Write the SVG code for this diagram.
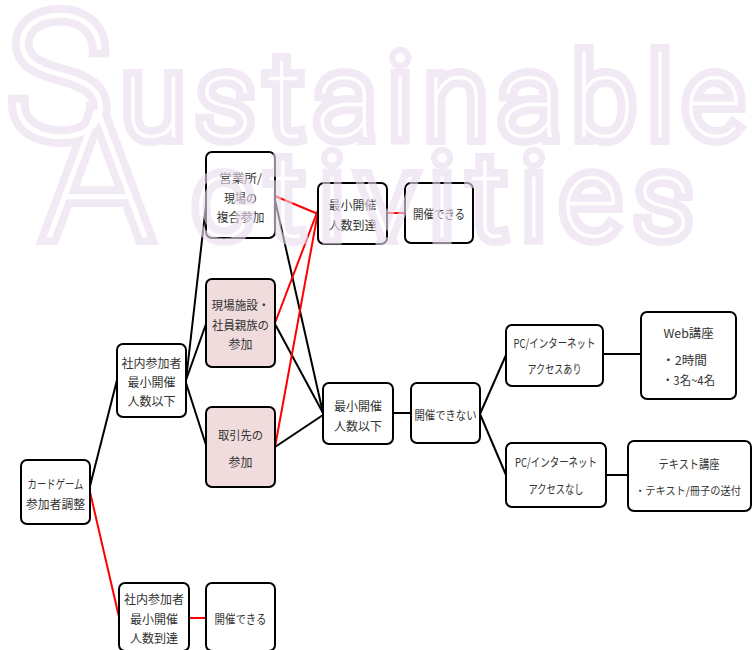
<svg xmlns="http://www.w3.org/2000/svg" xmlns:xlink="http://www.w3.org/1999/xlink" width="752" height="650" viewBox="0 0 752 650">
<style>
.box{fill:#fff;stroke:#000;stroke-width:2}
.pink{fill:#f0dcdc}
.t{font-family:"Noto Sans CJK JP","Noto Sans",sans-serif;font-size:12px;fill:#333;text-anchor:middle;dominant-baseline:central}
.s{text-anchor:start}
.bk{stroke:#000;stroke-width:2;fill:none}
.rd{stroke:#f00;stroke-width:2;fill:none}
</style>
<defs>
<g id="wmText" font-family="Roboto,'DejaVu Sans',sans-serif" font-weight="100">
<text x="8" y="137" font-size="172">S</text>
<text x="122" y="137" font-size="114" textLength="620" lengthAdjust="spacing">ustainable</text>
<text x="44" y="237" font-size="178">A</text>
<text x="194" y="237" font-size="114" textLength="498" lengthAdjust="spacing">ctivities</text>
</g>
<mask id="wmMask" maskUnits="userSpaceOnUse" x="0" y="0" width="752" height="650">
<use xlink:href="#wmText" fill="#fff" stroke="#fff" stroke-width="16" stroke-linejoin="miter"/>
<use xlink:href="#wmText" fill="#000" stroke="#000" stroke-width="0.4"/>
</mask>
</defs>
<rect width="752" height="650" fill="#fff"/>
<g id="connectors">
<path class="bk" d="M90 486L117 380"/>
<path class="bk" d="M186 380L206 205"/>
<path class="bk" d="M186 380L206 324"/>
<path class="bk" d="M186 383L206 445"/>
<path class="bk" d="M275 200L323 413"/>
<path class="bk" d="M275 324L323 413"/>
<path class="bk" d="M275 447L323 415"/>
<path class="bk" d="M393 413L411 413"/>
<path class="bk" d="M480 414L506 355"/>
<path class="bk" d="M480 414L506 475"/>
<path class="bk" d="M603 354L641 354"/>
<path class="bk" d="M606 475L628 475"/>
<path class="rd" d="M90 492L119 617"/>
<path class="rd" d="M189 618L206 618"/>
<path class="rd" d="M275 196L318 214"/>
<path class="rd" d="M275 323L318 210"/>
<path class="rd" d="M275 447L318 212"/>
<path class="rd" d="M387 213L405 213"/>
</g>
<g id="n1"><rect class="box" x="21" y="460" width="69" height="64" rx="6"/><text class="t" x="55.5" y="483" textLength="56" lengthAdjust="spacingAndGlyphs">カードゲーム</text><text class="t" x="55.5" y="503" textLength="59" lengthAdjust="spacingAndGlyphs">参加者調整</text></g>
<g id="n2"><rect class="box" x="117" y="344" width="69" height="73" rx="6"/><text class="t" x="151.5" y="362">社内参加者</text><text class="t" x="151.5" y="381">最小開催</text><text class="t" x="151.5" y="400">人数以下</text></g>
<g id="n3"><rect class="box" x="119" y="583" width="70" height="68" rx="6"/><text class="t" x="154" y="598">社内参加者</text><text class="t" x="154" y="618">最小開催</text><text class="t" x="154" y="637">人数到達</text></g>
<g id="n4"><rect class="box" x="206" y="583" width="69" height="68" rx="6"/><text class="t" x="240.5" y="618" textLength="52" lengthAdjust="spacingAndGlyphs">開催できる</text></g>
<g id="n5"><rect class="box" x="206" y="152" width="69" height="86" rx="6"/><text class="t" x="240.5" y="177" textLength="43" lengthAdjust="spacingAndGlyphs">営業所/</text><text class="t" x="240.5" y="197" textLength="33" lengthAdjust="spacingAndGlyphs">現場の</text><text class="t" x="240.5" y="216">複合参加</text></g>
<g id="n6"><rect class="box pink" x="206" y="279" width="69" height="88" rx="6"/><text class="t" x="240.5" y="304" textLength="58" lengthAdjust="spacingAndGlyphs">現場施設・</text><text class="t" x="240.5" y="324" textLength="57" lengthAdjust="spacingAndGlyphs">社員親族の</text><text class="t" x="240.5" y="343">参加</text></g>
<g id="n7"><rect class="box pink" x="206" y="407" width="69" height="80" rx="6"/><text class="t" x="240.5" y="434" textLength="45" lengthAdjust="spacingAndGlyphs">取引先の</text><text class="t" x="240.5" y="461">参加</text></g>
<g id="n8"><rect class="box" x="318" y="183" width="69" height="61" rx="6"/><text class="t" x="352.5" y="204">最小開催</text><text class="t" x="352.5" y="224">人数到達</text></g>
<g id="n9"><rect class="box" x="405" y="183" width="68" height="60" rx="6"/><text class="t" x="439" y="213" textLength="52" lengthAdjust="spacingAndGlyphs">開催できる</text></g>
<g id="n10"><rect class="box" x="323" y="383" width="70" height="61" rx="6"/><text class="t" x="358" y="405">最小開催</text><text class="t" x="358" y="425">人数以下</text></g>
<g id="n11"><rect class="box" x="411" y="383" width="69" height="60" rx="6"/><text class="t" x="445.5" y="414" textLength="62" lengthAdjust="spacingAndGlyphs">開催できない</text></g>
<g id="n12"><rect class="box" x="506" y="325" width="97" height="61" rx="6"/><text class="t" x="554.5" y="342" textLength="82" lengthAdjust="spacingAndGlyphs">PC/インターネット</text><text class="t" x="554.5" y="368" textLength="54" lengthAdjust="spacingAndGlyphs">アクセスあり</text></g>
<g id="n13"><rect class="box" x="641" y="312" width="95" height="87" rx="6"/><text class="t" x="688.5" y="332" textLength="50" lengthAdjust="spacingAndGlyphs">Web講座</text><text class="t s" x="662" y="359" textLength="45" lengthAdjust="spacingAndGlyphs">・2時間</text><text class="t s" x="662" y="379" textLength="53" lengthAdjust="spacingAndGlyphs">・3名~4名</text></g>
<g id="n14"><rect class="box" x="506" y="443" width="100" height="64" rx="6"/><text class="t" x="556" y="461" textLength="82" lengthAdjust="spacingAndGlyphs">PC/インターネット</text><text class="t" x="556" y="488" textLength="55" lengthAdjust="spacingAndGlyphs">アクセスなし</text></g>
<g id="n15"><rect class="box" x="628" y="441" width="123" height="70" rx="6"/><text class="t" x="689" y="463" textLength="61" lengthAdjust="spacingAndGlyphs">テキスト講座</text><text class="t" x="688" y="490" style="font-size:11px" textLength="106" lengthAdjust="spacingAndGlyphs">・テキスト/冊子の送付</text></g>
<g id="watermark"><rect width="752" height="650" fill="#e9dced" fill-opacity="0.62" mask="url(#wmMask)"/></g>
</svg>
